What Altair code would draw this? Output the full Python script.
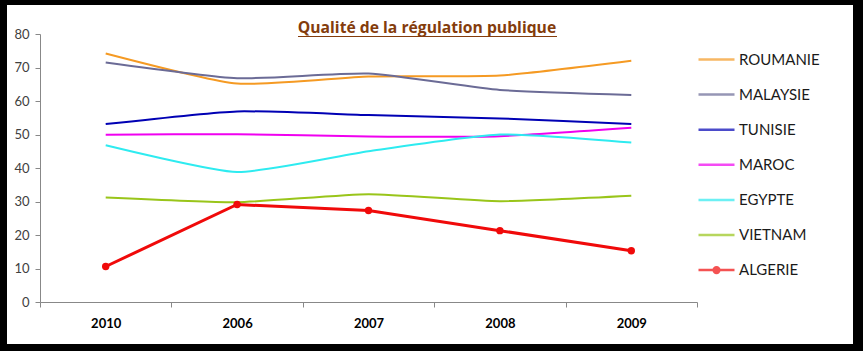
import altair as alt
import pandas as pd

TITLE = "Qualité de la régulation publique"
years = ["2010", "2006", "2007", "2008", "2009"]
series = ["ROUMANIE", "MALAYSIE", "TUNISIE", "MAROC", "EGYPTE", "VIETNAM", "ALGERIE"]
colors = ["#F59A23", "#6B6B96", "#0000B4", "#F000F0", "#2EEBF0", "#99C51A", "#F00A0A"]

roumanie = [74.2, 65.2, 67.3, 67.6, 72.0]
malaysie = [71.5, 66.8, 68.2, 63.3, 61.8]
tunisie = [53.1, 56.9, 55.8, 54.8, 53.1]
maroc = [49.9, 50.1, 49.4, 49.5, 52.0]
egypte = [46.8, 38.8, 45.0, 50.0, 47.6]
vietnam = [31.2, 29.8, 32.2, 30.1, 31.7]
algerie = [10.6, 29.1, 27.3, 21.3, 15.3]
values = [roumanie, malaysie, tunisie, maroc, egypte, vietnam, algerie]

# legend glyphs: plain stroke, ALGERIE stroke with a round marker
LINE_PATH = "M-1,0L1,0"
MARK_PATH = "M-1,0L1,0M-0.16,0A0.16,0.16,0,1,1,0.16,0A0.16,0.16,0,1,1,-0.16,0M-0.08,0A0.08,0.08,0,1,1,0.08,0A0.08,0.08,0,1,1,-0.08,0"
glyphs = [LINE_PATH] * 6 + [MARK_PATH]

rows = []
for s, vals in zip(series, values):
    for y, v in zip(years, vals):
        rows.append({"series": s, "year": y, "value": v})
df = pd.DataFrame(rows)

FONT = "Lato"

x_enc = alt.X(
    "year:O",
    sort=years,
    bandPosition=0.5,
    scale=alt.Scale(type="band", paddingInner=0, paddingOuter=0),
    axis=alt.Axis(
        title=None, labelAngle=0, tickBand="extent", labelFont=FONT, labelFontSize=13,
        labelFontWeight="bold", labelColor="#000000", labelPadding=10, tickSize=5,
        domainColor="#888888", tickColor="#888888", zindex=1,
    ),
)
y_enc = alt.Y(
    "value:Q",
    scale=alt.Scale(domain=[0, 80], nice=False),
    axis=alt.Axis(
        title=None, values=list(range(0, 81, 10)), grid=False, labelFont=FONT,
        labelFontSize=13, labelColor="#404040", labelPadding=6, tickSize=5,
        domainColor="#888888", tickColor="#888888", zindex=1,
    ),
)
color_enc = alt.Color(
    "series:N",
    sort=series,
    scale=alt.Scale(domain=series, range=colors),
    legend=alt.Legend(title=None),
)
shape_enc = alt.Shape(
    "series:N",
    sort=series,
    scale=alt.Scale(domain=series, range=glyphs),
    legend=alt.Legend(title=None),
)

base = alt.Chart(df)
smooth = base.transform_filter(alt.datum.series != "ALGERIE").mark_line(
    strokeWidth=2, interpolate="cardinal", tension=0.45
).encode(x=x_enc, y=y_enc, color=color_enc, detail="series:N")
alg_line = base.transform_filter(alt.datum.series == "ALGERIE").mark_line(
    strokeWidth=3
).encode(x=x_enc, y=y_enc, color=color_enc)
alg_pts = base.transform_filter(alt.datum.series == "ALGERIE").mark_point(
    filled=True, size=55, opacity=1
).encode(x=x_enc, y=y_enc, color=alt.value("#F00A0A"))
legend_glyphs = base.transform_filter("false").mark_point(filled=False).encode(
    x=x_enc, y=y_enc, color=color_enc, shape=shape_enc
)

tdf = pd.DataFrame({"t": [TITLE]})
title = alt.Chart(tdf).mark_text(
    font="Open Sans", fontSize=15.7, fontWeight="bold", color="#843C0C", baseline="alphabetic", align="center"
).encode(text="t:N", x=alt.value(387), y=alt.value(-1))
underline = alt.Chart(tdf).mark_rule(color="#843C0C", strokeWidth=1).encode(
    x=alt.value(258), x2=alt.value(517), y=alt.value(2.5)
)
frame = alt.Chart(tdf).mark_rect(fillOpacity=0, stroke="black", strokeWidth=20).encode(
    x=alt.value(-43), x2=alt.value(823), y=alt.value(-39), y2=alt.value(320)
)

chart = alt.layer(smooth, alg_line, alg_pts, legend_glyphs, title, underline, frame).properties(
    width=657, height=268,
    autosize=alt.AutoSizeParams(type="none"),
    padding={"left": 40, "top": 34, "right": 166, "bottom": 49},
    background="white",
).configure_view(stroke=None).configure_legend(
    orient="none", legendX=657, legendY=6, symbolSize=1296,
    symbolStrokeWidth=2.5, labelFont=FONT, labelFontSize=15, labelColor="#1A1A1A",
    labelOffset=3, rowPadding=7.1, padding=0, offset=0, zindex=1,
)

chart.save("out.html", embed_options={"renderer": "svg", "actions": False})
